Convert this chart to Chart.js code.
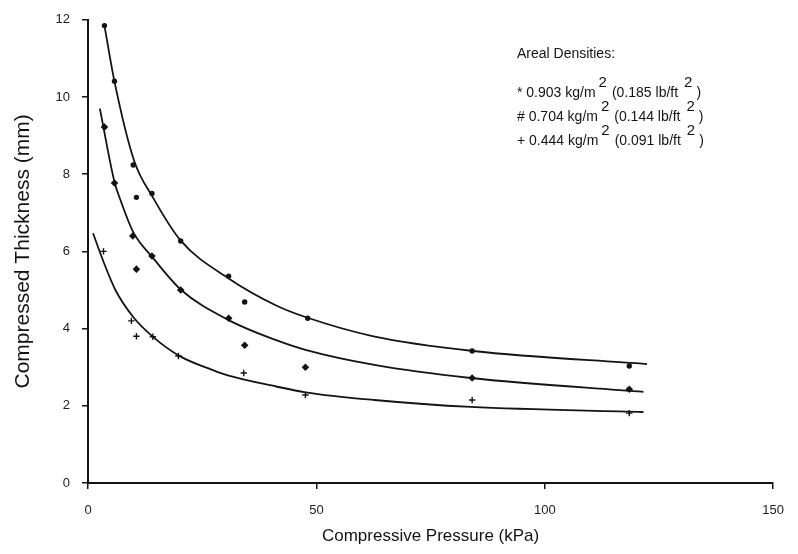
<!DOCTYPE html>
<html lang="en">
<head>
    <meta charset="UTF-8">
    <title>Compressed Thickness vs Compressive Pressure</title>
    <script src="https://cdn.jsdelivr.net/npm/chart.js"></script>
    <style>
        body { margin: 0; background: #fff; }
        canvas { display: block; }
    </style>
</head>
<body>
    <canvas id="chart" width="798" height="554"></canvas>

    <script>
        // measured points, kPa / mm
        const heavyX = [3.6, 5.8, 9.9, 10.6, 14.0, 20.3, 30.8, 34.3, 48.1, 84.1, 118.5];
        const heavyY = [11.85, 10.41, 8.24, 7.4, 7.5, 6.27, 5.36, 4.69, 4.27, 3.42, 3.03];
        const mediumX = [3.6, 5.8, 9.8, 10.6, 14.0, 20.3, 30.8, 34.3, 47.6, 84.1, 118.5];
        const mediumY = [9.22, 7.77, 6.4, 5.54, 5.88, 5.0, 4.27, 3.57, 3.0, 2.72, 2.43];
        const lightX = [3.4, 9.5, 10.6, 14.2, 19.8, 34.1, 47.6, 84.1, 118.5];
        const lightY = [6.0, 4.2, 3.8, 3.79, 3.29, 2.85, 2.28, 2.15, 1.81];

        // fitted curves
        const heavyFitX = [3.6, 5.8, 10.1, 14.2, 20.3, 30.8, 41.2, 47.6, 62.5, 84.3, 122.4];
        const heavyFitY = [11.85, 10.4, 8.35, 7.4, 6.28, 5.3, 4.6, 4.3, 3.8, 3.42, 3.08];
        const mediumFitX = [2.6, 5.8, 7.2, 9.9, 14.1, 20.4, 30.8, 41.2, 47.6, 62.7, 83.8, 121.6];
        const mediumFitY = [9.7, 7.8, 7.3, 6.5, 5.85, 5.0, 4.22, 3.7, 3.45, 3.06, 2.72, 2.36];
        const lightFitX = [1.1, 3.5, 6.0, 9.9, 14.1, 20.2, 27.2, 30.8, 41.2, 47.6, 62.7, 83.8, 121.6];
        const lightFitY = [6.47, 5.7, 5.0, 4.3, 3.8, 3.28, 2.93, 2.78, 2.5, 2.35, 2.15, 1.97, 1.84];

        const xTicks = [0, 50, 100, 150];
        const yTicks = [0, 2, 4, 6, 8, 10, 12];

        const legendTitle = 'Areal Densities:';
        const legendRows = [
            ['* 0.903 kg/m', '(0.185 lb/ft'],
            ['# 0.704 kg/m', '(0.144 lb/ft'],
            ['+ 0.444 kg/m', '(0.091 lb/ft']
        ];

        const ink = '#141414';
        const pts = (xs, ys) => xs.map((x, i) => ({ x: x, y: ys[i] }));

        function fitLine(xs, ys) {
            return {
                data: pts(xs, ys),
                showLine: true,
                borderColor: ink,
                borderWidth: 1.8,
                pointRadius: 0,
                cubicInterpolationMode: 'monotone'
            };
        }

        function markers(xs, ys, style, r) {
            return {
                data: pts(xs, ys),
                showLine: false,
                pointStyle: style,
                pointRadius: r,
                pointBorderColor: ink,
                pointBackgroundColor: ink,
                pointBorderWidth: 1.4
            };
        }

        // text block in the upper right
        const densityNote = {
            id: 'densityNote',
            afterDraw(chart) {
                const ctx = chart.ctx;
                const x0 = 517;
                ctx.save();
                ctx.fillStyle = ink;
                ctx.textBaseline = 'alphabetic';
                ctx.font = '14px Arial';
                ctx.fillText(legendTitle, x0, 58);
                legendRows.forEach((row, i) => {
                    const base = 97 + i * 24;
                    let x = x0;
                    ctx.font = '14px Arial';
                    ctx.fillText(row[0], x, base);
                    x += ctx.measureText(row[0]).width + 3;
                    ctx.font = '15px Arial';
                    ctx.fillText('2', x, base - 10);
                    x += ctx.measureText('2').width + 5;
                    ctx.font = '14px Arial';
                    ctx.fillText(row[1], x, base);
                    x += ctx.measureText(row[1]).width + 6;
                    ctx.font = '15px Arial';
                    ctx.fillText('2', x, base - 10);
                    x += ctx.measureText('2').width + 4;
                    ctx.font = '14px Arial';
                    ctx.fillText(')', x, base);
                });
                ctx.restore();
            }
        };

        new Chart(document.getElementById('chart'), {
            type: 'scatter',
            data: {
                datasets: [
                    fitLine(heavyFitX, heavyFitY),
                    fitLine(mediumFitX, mediumFitY),
                    fitLine(lightFitX, lightFitY),
                    markers(heavyX, heavyY, 'circle', 2),
                    markers(mediumX, mediumY, 'rectRot', 2.8),
                    markers(lightX, lightY, 'cross', 3.2)
                ]
            },
            options: {
                responsive: false,
                animation: false,
                layout: { padding: { top: 19, right: 6, left: 0, bottom: 0 } },
                plugins: { legend: { display: false }, tooltip: { enabled: false } },
                scales: {
                    x: {
                        type: 'linear',
                        min: 0, max: 150,
                        afterFit: s => { s.height = 71; },
                        afterBuildTicks: s => { s.ticks = xTicks.map(v => ({ value: v })); },
                        border: { color: ink, width: 2 },
                        grid: { drawOnChartArea: false, color: ink, tickLength: 6, lineWidth: 1.5 },
                        ticks: { color: '#222', padding: 14, font: { family: 'Arial', size: 13 } },
                        title: {
                            display: true,
                            text: 'Compressive Pressure (kPa)',
                            color: ink,
                            font: { family: 'Arial', size: 17 },
                            padding: { top: 0, bottom: 7 }
                        }
                    },
                    y: {
                        min: 0, max: 12,
                        afterFit: s => { s.width = 88; },
                        afterBuildTicks: s => { s.ticks = yTicks.map(v => ({ value: v })); },
                        border: { color: ink, width: 2 },
                        grid: { drawOnChartArea: false, color: ink, tickLength: 6, lineWidth: 1.5 },
                        ticks: { color: '#222', padding: 12, font: { family: 'Arial', size: 13 } },
                        title: {
                            display: true,
                            text: 'Compressed Thickness (mm)',
                            color: ink,
                            font: { family: 'Arial', size: 21 },
                            padding: { top: 11, bottom: 0 }
                        }
                    }
                }
            },
            plugins: [densityNote]
        });
    </script>
</body>
</html>
